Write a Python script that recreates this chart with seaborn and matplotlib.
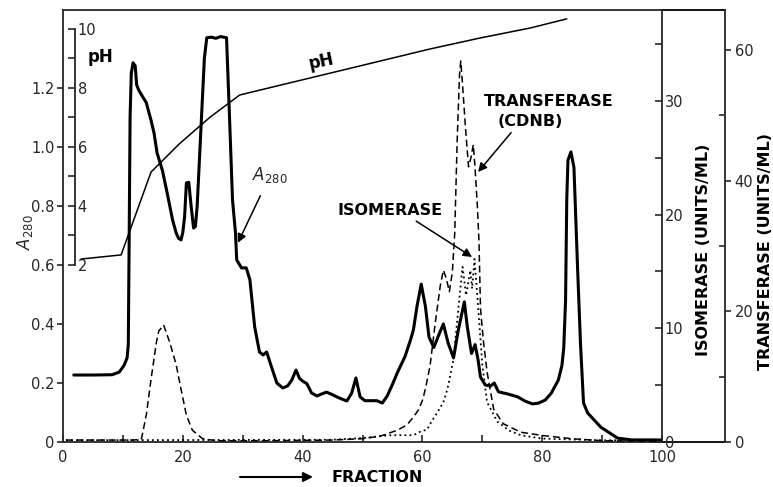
import matplotlib
matplotlib.use("Agg")
import matplotlib.pyplot as plt
import seaborn as sns
import pandas as pd
from matplotlib.ticker import FixedLocator, FixedFormatter

# ---------------- data ----------------
a280_frac = [1.8, 5.0, 8.2, 9.4, 10.2, 10.7, 10.9, 11.05, 11.2, 11.4, 11.7, 12.05, 12.3, 12.7, 13.3,
             13.9, 14.7, 15.2, 15.7, 16.6, 17.4, 18.3, 18.9, 19.3, 19.7, 20.0, 20.3, 20.6, 21.0, 21.4,
             21.8, 22.1, 22.4, 23.0, 23.6, 24.0, 24.8, 25.5, 26.3, 27.3, 27.8, 28.3, 28.8, 29.0, 29.8,
             30.6, 31.2, 32.0, 32.8, 33.4, 34.0, 34.8, 35.7, 36.7, 37.5, 38.2, 38.9, 39.5, 40.1, 40.7,
             41.5, 42.4, 43.2, 44.0, 44.8, 45.7, 46.6, 47.4, 48.2, 48.9, 49.6, 50.4, 51.4, 52.4, 53.3,
             54.1, 55.0, 55.8, 57.1, 58.0, 58.5, 59.1, 59.8, 60.5, 61.1, 61.9, 62.6, 63.5, 64.3, 65.2,
             66.0, 67.0, 67.5, 68.2, 68.8, 69.3, 69.7, 70.5, 71.4, 72.0, 72.7, 74.2, 75.9, 77.2, 78.4,
             79.4, 80.5, 81.5, 82.7, 83.3, 83.6, 83.9, 84.1, 84.3, 84.8, 85.3, 85.9, 86.4, 86.9, 87.6,
             89.8, 92.6, 95.0, 100.0]
a280_val = [0.227, 0.227, 0.228, 0.237, 0.26, 0.285, 0.33, 0.7, 1.1, 1.25, 1.285, 1.275, 1.21, 1.19, 1.17,
            1.15, 1.09, 1.047, 0.98, 0.92, 0.843, 0.752, 0.708, 0.69, 0.685, 0.71, 0.763, 0.878, 0.88, 0.797,
            0.725, 0.73, 0.8, 1.05, 1.3, 1.37, 1.372, 1.368, 1.374, 1.37, 1.1, 0.82, 0.708, 0.617, 0.59,
            0.59, 0.55, 0.39, 0.305, 0.295, 0.305, 0.255, 0.20, 0.183, 0.19, 0.21, 0.244, 0.215, 0.205, 0.198,
            0.166, 0.156, 0.163, 0.169, 0.162, 0.153, 0.145, 0.139, 0.166, 0.217, 0.153, 0.14, 0.14, 0.14, 0.132,
            0.155, 0.195, 0.234, 0.29, 0.345, 0.38, 0.46, 0.535, 0.46, 0.356, 0.32, 0.356, 0.40, 0.335, 0.285,
            0.38, 0.475, 0.39, 0.30, 0.33, 0.278, 0.22, 0.193, 0.19, 0.20, 0.17, 0.163, 0.153, 0.138, 0.129,
            0.132, 0.142, 0.165, 0.21, 0.26, 0.32, 0.48, 0.82, 0.955, 0.983, 0.93, 0.593, 0.33, 0.132, 0.098,
            0.05, 0.013, 0.007, 0.007]

ph_frac = [3.0, 9.7, 14.7, 19.4, 24.5, 29.5, 61.3, 69.6, 78.0, 84.1]
ph_val = [2.2, 2.34, 5.15, 6.1, 7.0, 7.76, 9.32, 9.69, 10.03, 10.34]

tr_frac = [0.5, 11.9, 13.1, 13.9, 14.7, 15.6, 16.0, 16.8, 17.8, 18.9, 19.7, 20.6, 21.6, 23.3, 25.6,
           35.0, 45.0, 50.0, 53.0, 55.8, 57.4, 58.5, 59.4, 60.1, 60.7, 61.3, 62.1, 63.0, 63.5, 64.0,
           64.5, 65.0, 65.4, 65.8, 66.2, 66.4, 66.7, 67.2, 67.7, 68.1, 68.5, 68.8, 69.2, 69.45, 69.7,
           70.2, 70.8, 71.9, 73.5, 76.4, 80.0, 82.0, 85.0, 90.0, 99.5]
tr_val = [0.3, 0.3, 0.5, 4.1, 9.6, 15.3, 17.0, 17.9, 15.3, 11.8, 8.1, 4.1, 1.8, 0.5, 0.2,
          0.2, 0.3, 0.5, 0.9, 1.8, 2.6, 3.8, 5.0, 6.6, 9.0, 11.8, 17.9, 24.0, 26.3, 25.0,
          23.0, 26.0, 32.0, 46.0, 56.2, 58.3, 54.7, 48.0, 42.1, 43.5, 45.5, 41.8, 35.7, 30.6, 20.4,
          15.3, 10.7, 5.0, 2.8, 1.5, 1.0, 0.8, 0.5, 0.2, 0.1]

iso_frac = [0.5, 45.0, 50.0, 54.6, 58.5, 59.6, 60.8, 61.3, 62.5, 63.5, 64.2, 65.2, 66.0, 66.7, 67.3,
            68.0, 68.3, 68.7, 69.2, 70.0, 70.8, 72.5, 74.5, 76.4, 80.0, 90.0, 99.5]
iso_val = [0.15, 0.2, 0.35, 0.6, 0.6, 0.9, 1.1, 1.6, 2.6, 3.5, 4.7, 7.3, 11.7, 15.4, 12.9,
           15.1, 13.5, 16.1, 12.6, 6.8, 3.5, 1.8, 1.0, 0.6, 0.3, 0.15, 0.15]

a280_ticks = [0, 0.2, 0.4, 0.6, 0.8, 1.0, 1.2]
a280_ticklabels = ["0", "0.2", "0.4", "0.6", "0.8", "1.0", "1.2"]
x_ticks = [0, 20, 40, 60, 80, 100]
ph_ticks = [2, 4, 6, 8, 10]
iso_ticks = [0, 10, 20, 30]
tr_ticks = [0, 20, 40, 60]

# ---------------- style ----------------
sns.set_style("ticks")
plt.rcParams['font.family'] = ['DejaVu Sans']
plt.rcParams['axes.linewidth'] = 1.3
plt.rcParams['xtick.major.width'] = 1.2
plt.rcParams['ytick.major.width'] = 1.2
plt.rcParams['xtick.minor.width'] = 1.2
plt.rcParams['ytick.minor.width'] = 1.2

fig = plt.figure(figsize=(7.73, 4.87), dpi=100)
ax = fig.add_axes([63 / 773, 1 - 442 / 487, 599 / 773, 432 / 487])

A_TOP = 1.464
ax.set_xlim(0, 100)
ax.set_ylim(0, A_TOP)

df_a = pd.DataFrame({"frac": a280_frac, "A": a280_val})
sns.lineplot(data=df_a, x="frac", y="A", ax=ax, color="black", linewidth=2.2,
             sort=False, estimator=None)

# x axis
ax.xaxis.set_major_locator(FixedLocator(x_ticks))
ax.xaxis.set_minor_locator(FixedLocator([10, 30, 50, 70, 90]))
ax.tick_params(axis="x", which="both", direction="in", length=5, labelsize=10.5, pad=6)
ax.set_xlabel("")
# left A280 axis
ax.yaxis.set_major_locator(FixedLocator(a280_ticks))
ax.yaxis.set_major_formatter(FixedFormatter(a280_ticklabels))
ax.tick_params(axis="y", which="major", direction="out", length=4, labelsize=10.5, pad=2)
ax.set_ylabel("")
ax.spines["right"].set_visible(False)
ax.spines["top"].set_visible(True)

# pH axis
ax_ph = ax.twinx()
ax_ph.set_ylim(10 * 0 - 4, 10 * A_TOP - 4)
for s in ["left", "top", "bottom"]:
    ax_ph.spines[s].set_visible(False)
ax_ph.spines["right"].set_position(("axes", 12 / 599))
ax_ph.spines["right"].set_bounds(2, 10)
ax_ph.yaxis.set_major_locator(FixedLocator(ph_ticks))
ax_ph.yaxis.set_minor_locator(FixedLocator([3, 5, 7, 9]))
ax_ph.tick_params(axis="y", which="both", direction="in", length=5, labelsize=10.5, pad=2)
df_ph = pd.DataFrame({"frac": ph_frac, "pH": ph_val})
sns.lineplot(data=df_ph, x="frac", y="pH", ax=ax_ph, color="black", linewidth=1.1,
             sort=False, estimator=None)
ax_ph.set_ylabel("")
ax_ph.set_xlabel("")

# isomerase axis
ax_iso = ax.twinx()
ax_iso.set_ylim(0, 38.0)
for s in ["left", "top", "bottom"]:
    ax_iso.spines[s].set_visible(False)
ax_iso.yaxis.set_major_locator(FixedLocator(iso_ticks))
ax_iso.yaxis.set_minor_locator(FixedLocator([5, 15, 25, 35]))
ax_iso.tick_params(axis="y", which="both", direction="in", length=5, labelsize=10.5, pad=2)
df_iso = pd.DataFrame({"frac": iso_frac, "iso": iso_val})
sns.lineplot(data=df_iso, x="frac", y="iso", ax=ax_iso, color="black", linewidth=1.3,
             linestyle=(0, (1, 1.8)), sort=False, estimator=None)
ax_iso.set_ylabel("")
ax_iso.set_xlabel("")

# transferase axis
ax_tr = ax.twinx()
ax_tr.set_ylim(0, 66.1)
for s in ["left", "top", "bottom"]:
    ax_tr.spines[s].set_visible(False)
ax_tr.spines["right"].set_position(("axes", 662 / 599))
ax_tr.yaxis.set_major_locator(FixedLocator(tr_ticks))
ax_tr.yaxis.set_minor_locator(FixedLocator([10, 30, 50]))
ax_tr.tick_params(axis="y", which="major", direction="out", length=4, labelsize=10.5, pad=3)
ax_tr.tick_params(axis="y", which="minor", direction="in", length=4)
df_tr = pd.DataFrame({"frac": tr_frac, "tr": tr_val})
sns.lineplot(data=df_tr, x="frac", y="tr", ax=ax_tr, color="black", linewidth=1.1,
             linestyle=(0, (4.5, 2.5)), sort=False, estimator=None)
ax_tr.set_ylabel("")
ax_tr.set_xlabel("")

# frame extension between isomerase and transferase axes
for yy in (0, 1):
    ax.plot([1, 662 / 599], [yy, yy], transform=ax.transAxes, color="black",
            linewidth=1.3, clip_on=False, solid_capstyle="projecting")

# ---------------- text ----------------
bold = dict(fontweight="bold", color="black")
ax.text(6.2, 1.305, "pH", fontsize=12, ha="center", va="center", **bold)
ax.text(43.2, 1.29, "pH", fontsize=12, ha="center", va="center", rotation=12, **bold)

ax.annotate(r"$A_{280}$", xy=(29.2, 0.675), xytext=(34.6, 0.905), fontsize=12,
            ha="center", va="center",
            arrowprops=dict(arrowstyle="-|>", color="black", lw=1.1, mutation_scale=13,
                            shrinkA=6, shrinkB=0))
ax.annotate("ISOMERASE", xy=(68.3, 0.627), xytext=(54.6, 0.785), fontsize=11.5,
            ha="center", va="center", **bold,
            arrowprops=dict(arrowstyle="-|>", color="black", lw=1.1, mutation_scale=13,
                            shrinkA=0, shrinkB=0, relpos=(0.7, 0.0)))
ax.text(81.1, 1.153, "TRANSFERASE", fontsize=11.5, ha="center", va="center", **bold)
ax.annotate("(CDNB)", xy=(69.3, 0.915), xytext=(78.0, 1.085), fontsize=11.5,
            ha="center", va="center", **bold,
            arrowprops=dict(arrowstyle="-|>", color="black", lw=1.1, mutation_scale=13,
                            shrinkA=0, shrinkB=0, relpos=(0.25, 0.0)))

fig.text(25 / 773, 1 - 232 / 487, r"$A_{280}$", fontsize=12, rotation=90,
         ha="center", va="center")
fig.text(377 / 773, 1 - 477 / 487, "FRACTION", fontsize=11.5, ha="center", va="center", **bold)
ax.annotate("", xy=(313 / 773, 1 - 477 / 487), xytext=(240 / 773, 1 - 477 / 487),
            xycoords="figure fraction", textcoords="figure fraction", annotation_clip=False,
            arrowprops=dict(arrowstyle="-|>", color="black", lw=1.5, mutation_scale=14,
                            shrinkA=0, shrinkB=0))
fig.text(703 / 773, 1 - 250 / 487, "ISOMERASE (UNITS/ML)", fontsize=11.5, rotation=90,
         ha="center", va="center", **bold)
fig.text(765 / 773, 1 - 252 / 487, "TRANSFERASE (UNITS/ML)", fontsize=11.5, rotation=90,
         ha="center", va="center", **bold)

fig.savefig("out.png", dpi=100, facecolor="white")
